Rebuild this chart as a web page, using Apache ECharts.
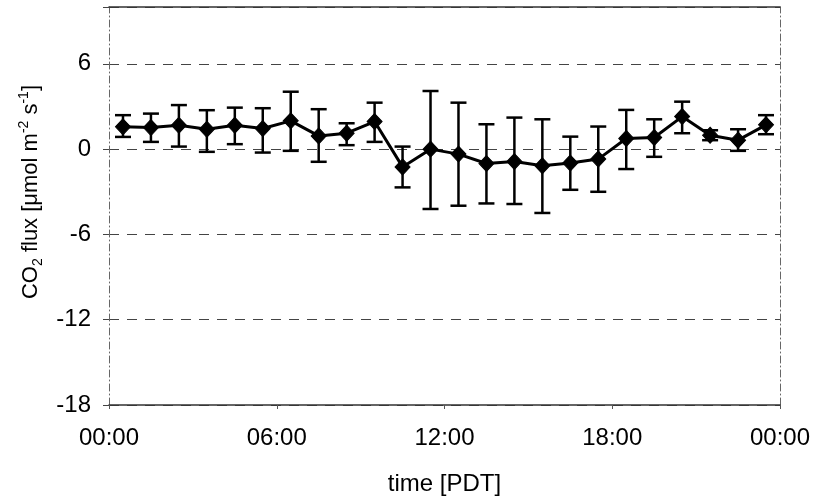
<!DOCTYPE html>
<html>
<head>
<meta charset="utf-8">
<script src="https://cdn.jsdelivr.net/npm/echarts@6/dist/echarts.min.js"></script>
<style>html,body{margin:0;padding:0;background:#fff;}#c{width:815px;height:501px;}</style>
</head>
<body>
<div id="c"></div>
<script>
// time of day (hours) of each half-hour-centred hourly mean
const hours = [0.5, 1.5, 2.5, 3.5, 4.5, 5.5, 6.5, 7.5, 8.5, 9.5, 10.5, 11.5,
               12.5, 13.5, 14.5, 15.5, 16.5, 17.5, 18.5, 19.5, 20.5, 21.5, 22.5, 23.5];
// mean CO2 flux
const flux = [1.57, 1.52, 1.68, 1.40, 1.68, 1.45, 1.99, 0.93, 1.12, 1.94, -1.25, 0.0,
              -0.35, -1.01, -0.87, -1.17, -0.98, -0.70, 0.75, 0.82, 2.29, 0.98, 0.63, 1.71];
// error bar top / bottom
const errHigh = [2.39, 2.50, 3.10, 2.74, 2.92, 2.88, 4.04, 2.81, 1.82, 3.27, 0.18, 4.09,
                 3.27, 1.75, 2.22, 2.10, 0.88, 1.59, 2.76, 2.10, 3.34, 1.33, 1.40, 2.39];
const errLow = [0.86, 0.51, 0.18, -0.19, 0.35, -0.24, -0.12, -0.89, 0.28, 0.51, -2.69, -4.21,
                -3.98, -3.82, -3.86, -4.49, -2.86, -3.00, -1.40, -0.54, 1.12, 0.63, -0.12, 1.05];
// tick settings
const xTicks = [0, 6, 12, 18, 24];
const xTickLabels = ['00:00', '06:00', '12:00', '18:00', '00:00'];
const yTicks = [-18, -12, -6, 0, 6];

const FONT = "'Liberation Sans', Arial, sans-serif";

const chart = echarts.init(document.getElementById('c'), null, {renderer: 'canvas'});

const lineData = hours.map((h, i) => [h, flux[i]]);
const errData = hours.map((h, i) => [h, errLow[i], errHigh[i]]);

chart.setOption({
  animation: false,
  backgroundColor: '#fff',
  grid: {left: 109, right: 35, top: 7, bottom: 96, containLabel: false},
  xAxis: [{
    type: 'value', min: 0, max: 24, interval: 6, position: 'bottom',
    name: 'time [PDT]', nameLocation: 'middle', nameGap: 67,
    nameTextStyle: {fontFamily: FONT, fontSize: 24, color: '#000'},
    axisLine: {show: true, onZero: false, lineStyle: {color: '#333', width: 1.5}},
    axisTick: {show: true, length: 4, lineStyle: {color: '#555'}},
    axisLabel: {
      fontFamily: FONT, fontSize: 24, color: '#000', margin: 21,
      formatter: v => { const k = xTicks.indexOf(v); return k >= 0 ? xTickLabels[k] : ''; }
    },
    splitLine: {show: false}
  }, {
    type: 'value', min: 0, max: 24, position: 'top',
    axisLine: {show: true, onZero: false, lineStyle: {color: '#333', width: 1.5}},
    axisTick: {show: false}, axisLabel: {show: false}, splitLine: {show: false}
  }],
  yAxis: [{
    type: 'value', min: -18, max: 10, interval: 6, position: 'left',
    name: '{a|CO}{b|2}{a| flux [μmol m}{c|-2}{a| s}{c|-1}{a|]}',
    nameLocation: 'middle', nameGap: 63, nameRotate: 90,
    nameTextStyle: {
      fontFamily: FONT, fontSize: 22, color: '#000',
      padding: [0, 0, 0, 28],
      rich: {
        a: {fontFamily: FONT, fontSize: 22, color: '#000', lineHeight: 28, verticalAlign: 'middle'},
        b: {fontFamily: FONT, fontSize: 14, color: '#000', lineHeight: 14, verticalAlign: 'bottom'},
        c: {fontFamily: FONT, fontSize: 14, color: '#000', lineHeight: 14, verticalAlign: 'top'}
      }
    },
    axisLine: {show: true, onZero: false, lineStyle: {color: '#666', width: 1, type: [7, 3, 1, 3]}},
    axisTick: {show: true, length: 6, lineStyle: {color: '#444'}},
    axisLabel: {
      fontFamily: FONT, fontSize: 24, color: '#000', margin: 18,
      formatter: v => yTicks.indexOf(v) >= 0 ? String(v) : ''
    },
    splitLine: {show: true, lineStyle: {color: '#444', width: 1, type: [10, 8]}}
  }, {
    type: 'value', min: -18, max: 10, position: 'right',
    axisLine: {show: true, onZero: false, lineStyle: {color: '#666', width: 1, type: [7, 3, 1, 3]}},
    axisTick: {show: false}, axisLabel: {show: false}, splitLine: {show: false}
  }],
  series: [{
    type: 'custom',
    xAxisIndex: 0, yAxisIndex: 0,
    data: errData,
    z: 3,
    renderItem: function (params, api) {
      const x = api.value(0);
      const lo = api.coord([x, api.value(1)]);
      const hi = api.coord([x, api.value(2)]);
      const hw = 8;
      const style = {stroke: '#000', lineWidth: 2.5, fill: null};
      return {
        type: 'group',
        children: [
          {type: 'line', shape: {x1: lo[0], y1: lo[1], x2: hi[0], y2: hi[1]}, style: style},
          {type: 'line', shape: {x1: hi[0] - hw, y1: hi[1], x2: hi[0] + hw, y2: hi[1]}, style: style},
          {type: 'line', shape: {x1: lo[0] - hw, y1: lo[1], x2: lo[0] + hw, y2: lo[1]}, style: style}
        ]
      };
    }
  }, {
    type: 'line',
    xAxisIndex: 0, yAxisIndex: 0,
    data: lineData,
    z: 4,
    symbol: 'diamond',
    symbolSize: [15, 16],
    lineStyle: {color: '#000', width: 3},
    itemStyle: {color: '#000', borderColor: '#000'},
    showSymbol: true
  }]
});
</script>
</body>
</html>
